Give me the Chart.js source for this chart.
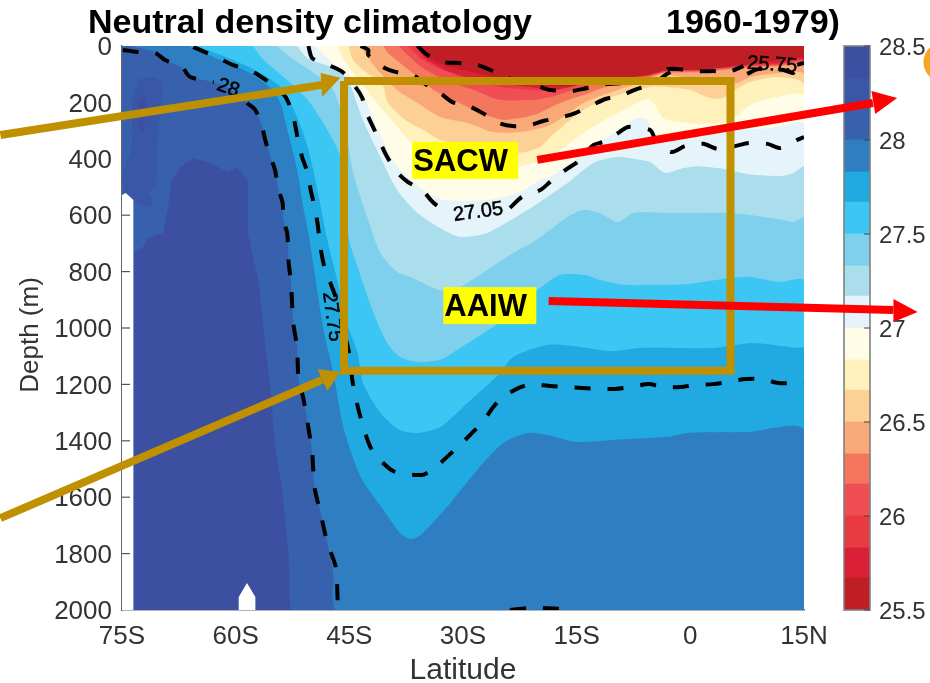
<!DOCTYPE html>
<html>
<head>
<meta charset="utf-8">
<title>Neutral density climatology</title>
<script src="https://cdn.jsdelivr.net/npm/chart.js@4"></script>
<style>
  html, body { margin: 0; padding: 0; background: #fff; overflow: hidden; }
  canvas { position: absolute; top: 0; }
  #section { left: 0; z-index: 2; }
  #colorbar { left: 800px; z-index: 1; }
</style>
</head>
<body>
<canvas id="colorbar" width="130" height="683"></canvas>
<canvas id="section" width="930" height="683"></canvas>
<script>
// colour levels of the filled contours, and one colour per band
const barLevels = [25.5, 25.67, 25.83, 26, 26.17, 26.33, 26.5, 26.67, 26.83, 27, 27.17, 27.33, 27.5, 27.67, 27.83, 28, 28.17, 28.33, 28.5];
const bandColors = ['#BE1E24', '#DA2037', '#EA3A41', '#EE4E54', '#F4775D', '#F9A877', '#FDD196', '#FFF1BC', '#FFFCE8', '#E5F4FA', '#ABDEEC', '#7FD0EC', '#3BC6F3', '#21A9E1', '#2E7EC1', '#3761AD', '#3A56A6', '#3D4FA1'];

// isopycnal depths (latitude, depth in m)
const lat2567 = [-35.6, -34.3, -31.7, -27.7, -22.4, -17.2, -11.9, -7.9, -5.3, -3.3, 1.3, 7.3, 10.6, 15];
const dep2567 = [0, 43, 74, 99, 128, 145, 131, 113, 99, 85, 89, 67, 53, 50];
const lat2583 = [-36.3, -35.0, -31.7, -27.7, -22.4, -17.2, -11.9, -7.9, -5.3, -3.3, 1.3, 7.3, 11.9, 15];
const dep2583 = [0, 43, 92, 121, 142, 156, 138, 121, 106, 89, 85, 67, 60, 53];
const lat2600 = [-37.3, -35.6, -33.0, -29.0, -25.1, -20.7, -18.5, -14.1, -9.6, -5.3, -3.3, 1.3, 7.3, 11.9, 15];
const dep2600 = [0, 43, 82, 121, 145, 156, 160, 135, 117, 103, 89, 85, 71, 64, 60];
const lat2617 = [-38.5, -37.0, -35.3, -31.7, -28.6, -25.1, -20.7, -18.5, -14.1, -9.6, -5.3, -3.3, 1.3, 7.3, 11.9, 15];
const dep2617 = [0, 39, 78, 128, 156, 191, 191, 181, 145, 121, 106, 92, 89, 74, 67, 64];
const lat2633 = [-40.5, -39.9, -38.3, -36.6, -33.9, -30.7, -27.7, -24.7, -20.7, -17.2, -14.1, -9.6, -5.3, -3.6, 1.3, 7.3, 11.9, 15];
const dep2633 = [0, 25, 60, 96, 156, 199, 238, 262, 245, 202, 174, 131, 110, 96, 92, 78, 71, 71];
const lat2650 = [-43.5, -42.5, -40.9, -38.7, -36.0, -33.0, -29.4, -26.0, -22.4, -18.5, -14.1, -9.6, -6.2, -3.6, 0, 4.0, 6.2, 7.9, 11.9, 15];
const dep2650 = [0, 43, 96, 156, 202, 252, 273, 305, 305, 280, 202, 156, 128, 103, 113, 128, 131, 110, 96, 103];
const lat2667 = [-45.1, -44.5, -43.2, -40.6, -39.9, -37.3, -35.2, -33.0, -29.0, -22.7, -19.8, -18.5, -14.1, -9.6, -5.3, -3.3, 0, 2.2, 3.6, 4.6, 5.9, 7.9, 11.5, 15];
const dep2667 = [0, 50, 85, 138, 202, 269, 298, 333, 358, 379, 358, 323, 227, 174, 145, 145, 156, 181, 188, 181, 156, 128, 110, 138];
const lat2683 = [-46.6, -45.9, -44.5, -43.2, -40.9, -38.3, -36.7, -31.7, -26.4, -22.8, -18.5, -14.1, -9.6, -5.7, -4.6, -3.6, -1.3, 1.3, 4.2, 5.9, 7.9, 10.2, 15];
const dep2683 = [0, 39, 96, 138, 216, 298, 344, 404, 433, 429, 394, 308, 238, 188, 209, 255, 269, 277, 273, 252, 209, 188, 181];
const lat2700 = [-49.5, -47.9, -45.9, -44.2, -42.9, -41.6, -39.9, -38.3, -35.2, -32.6, -26.8, -22.8, -19.8, -18.5, -16.2, -12.8, -9.6, -7.0, -5.7, -4.4, -1.3, 2.6, 6.6, 10.6, 15];
const dep2700 = [0, 43, 85, 128, 191, 273, 376, 440, 511, 546, 546, 521, 475, 465, 422, 358, 298, 255, 262, 323, 298, 305, 298, 291, 280];
const lat2717 = [-51.9, -50.5, -47.1, -45.9, -44.9, -43.2, -40.9, -38.7, -36.0, -32.6, -30.4, -26.8, -21.5, -18.5, -16.2, -12.8, -9.6, -6.6, -5.3, -3.3, -0.9, 0.9, 3.6, 6.2, 8.3, 11.9, 13.6, 15];
const dep2717 = [0, 43, 78, 103, 138, 262, 394, 511, 592, 652, 677, 663, 582, 528, 486, 415, 394, 404, 411, 450, 433, 426, 433, 447, 457, 461, 450, 429];
const lat2733 = [-54.5, -52.8, -49.7, -47.1, -45.5, -44.5, -42.5, -40.9, -38.7, -36.9, -33.9, -31.7, -30.4, -26.8, -23.4, -20.7, -18.5, -16.2, -14.1, -12.3, -11.0, -9.5, -7.5, -3.0, 1.3, 4.9, 7.9, 12.3, 13.6, 15];
const dep2733 = [0, 39, 96, 156, 298, 450, 617, 734, 801, 819, 858, 872, 855, 794, 734, 695, 652, 606, 582, 589, 606, 624, 592, 592, 592, 592, 599, 617, 624, 610];
const lat2750 = [-57.7, -56.3, -53.2, -50.5, -47.9, -46.2, -45.1, -43.2, -41.8, -40.0, -38.3, -36.0, -33.0, -30.4, -26.0, -23.4, -20.7, -17.2, -13.9, -11.9, -8.8, -4.0, -0.4, 5.3, 7.9, 11.9, 15];
const dep2750 = [0, 50, 121, 191, 298, 394, 677, 840, 947, 1053, 1103, 1121, 1113, 1071, 996, 936, 876, 812, 812, 830, 847, 847, 844, 823, 819, 837, 833];
const lat2767 = [-65.1, -60.3, -56.3, -53.7, -51.9, -50.5, -49.2, -47.9, -46.6, -45.5, -43.9, -43.2, -40.9, -38.3, -36.0, -33.0, -29.4, -25.1, -23.4, -18.9, -14.5, -10.6, -6.6, -1.3, 3.0, 8.3, 14.1, 15];
const dep2767 = [0, 50, 103, 156, 252, 358, 511, 688, 830, 972, 1089, 1195, 1301, 1362, 1372, 1351, 1266, 1160, 1103, 1060, 1067, 1082, 1071, 1071, 1071, 1053, 1071, 1071];
const lat2783 = [-66.2, -62.0, -58.1, -55.4, -54.1, -53.4, -52.5, -51.7, -51.1, -50.4, -49.7, -48.4, -47.1, -45.8, -43.5, -40.5, -38.3, -36.9, -35.6, -32.1, -28.1, -24.7, -21.5, -18.9, -14.9, -10.2, -3.0, -0.4, 7.5, 15];
const dep2783 = [0, 50, 96, 149, 202, 273, 369, 465, 571, 663, 784, 1007, 1160, 1351, 1528, 1645, 1727, 1748, 1734, 1635, 1503, 1408, 1372, 1379, 1404, 1397, 1386, 1372, 1369, 1362];
const lat2800 = [-73.9, -70.6, -69.3, -67.0, -66.0, -62.9, -61.0, -58.5, -57.4, -56.5, -56.1, -55.4, -54.8, -54.4, -53.8, -53.7, -53.2, -53.0, -52.7, -52.4, -51.9, -51.7, -51.1, -50.5, -49.9, -49.6, -48.8, -47.9, -47.1, -47.2, -46.7];
const dep2800 = [0, 21, 50, 78, 110, 128, 149, 202, 227, 287, 333, 394, 440, 504, 557, 617, 663, 769, 840, 982, 1067, 1184, 1245, 1337, 1443, 1564, 1656, 1762, 1876, 1954, 2000];

// closed patches of the densest water
const lat2817 = [-72.9, -71.3, -69.7, -70.2, -70.4, -70.6, -71.4, -70.9, -71.7, -73.3, -74.6, -75, -73.7, -73.7];
const dep2817 = [121, 110, 131, 287, 404, 500, 521, 553, 571, 553, 521, 457, 358, 202];
const lat2833 = [-68.4, -67.3, -65.6, -63.3, -61.1, -59.8, -58.4, -58.4, -57.0, -56.3, -55.4, -54.8, -53.8, -53.0, -52.8, -73.4, -73.4, -72.2, -71.7, -69.6, -68.9];
const dep2833 = [475, 429, 397, 415, 447, 429, 475, 663, 830, 1007, 1220, 1422, 1585, 1812, 2000, 2000, 734, 713, 681, 663, 571];
const lat2833b = [-72.9, -72.2, -71.7, -72.0, -72.2, -72.8];
const dep2833b = [199, 174, 199, 273, 309, 280];

// no-data wedges at the sea floor
const latFloorA = [-75, -74.5, -73.5, -73.5, -75];
const depFloorA = [528, 521, 546, 2000, 2000];
const latFloorB = [-59.6, -58.5, -57.4, -57.4, -59.6];
const depFloorB = [1954, 1904, 1954, 2000, 2000];

// dashed contours, null marks the gap kept for a label
const latC2575 = [-36.0, -34.7, -32.6, -30.6, -28.1, -26.4, -24.1, -19.8, -18.5, -15.8, -14.1, -11.0, -7.0, -4.0, -3.0, -1.6, 0.9, 3.0, 5.3, 7.0, null, 14.1, 15];
const depC2575 = [0, 32, 57, 60, 67, 85, 113, 145, 156, 160, 152, 135, 128, 110, 82, 82, 89, 89, 89, 71, null, 67, 60];
const latC2640 = [-43.5, -42.5, -42.5, -40.6, -38.9, -36.6, -35.2, -33.0, -31.4, -29.0, -27.4, -25.3, -23.5, -21.1, -19.4, -16.9, -15.2, -12.9, -11.2, -9.0, -7.0, -4.9, -3.3, -2.6, null, 7.5, 9.0, 12.3, 13.5, 14.3, 15];
const depC2640 = [0, 14, 32, 74, 92, 103, 131, 167, 199, 216, 238, 273, 284, 280, 266, 252, 238, 209, 188, 174, 152, 135, 103, 92, null, 99, 82, 85, 96, 78, 71];
const latC2705 = [-50.4, -49.9, -47.8, -45.9, -44.2, -43.3, -42.6, -41.8, -40.9, -40.0, -38.7, -37.3, -35.4, -34.0, -32.3, null, -23.8, -22.2, -19.8, -18.5, -16.5, -14.9, -12.8, -11.5, -9.5, -8.2, -5.3, -4.4, -2.4, -0.7, 1.7, 3.6, 5.9, 7.7, 10.2, 11.9, 14.1, 15];
const depC2705 = [0, 43, 67, 92, 145, 184, 245, 291, 344, 394, 447, 482, 511, 553, 589, null, 574, 535, 511, 482, 440, 411, 351, 340, 308, 287, 298, 344, 376, 355, 347, 365, 355, 344, 347, 362, 333, 323];
const latC2775 = [-65.6, -64.7, -62.3, -60.4, -58.3, -57.0, -54.8, -53.4, -52.5, -52.1, -51.7, -51.2, -50.4, -50.1, -49.7, -49.2, -48.8, -48.2, -47.5, -46.8, -46.6, null, -45.5, -45.1, -44.5, -43.5, -42.0, -39.2, -35.4, -33.6, -32.1, -30.4, -28.8, -27.4, -26.0, -24.7, -22.7, -20.8, -18.5, -16.5, -14.3, -12.1, -9.9, -7.9, -5.5, -3.6, -1.3, 0.9, 3.0, 5.0, 7.3, 9.5, 11.6, 13.9, 15];
const depC2775 = [4, 14, 43, 67, 85, 103, 145, 181, 238, 287, 344, 397, 457, 511, 557, 628, 716, 794, 840, 890, 901, null, 1035, 1078, 1202, 1319, 1433, 1507, 1521, 1493, 1457, 1415, 1372, 1333, 1280, 1245, 1213, 1199, 1206, 1209, 1213, 1216, 1216, 1209, 1199, 1209, 1209, 1202, 1199, 1191, 1181, 1181, 1195, 1195, 1195];
const latC28 = [-74.9, -73.0, -70.6, -69.3, -67.0, -66.0, -62.9, null, -58.5, -57.4, -56.5, -56.1, -55.4, -54.8, -54.4, -53.8, -53.7, -53.2, -53.0, -52.7, -52.4, -51.9, -51.7, -51.1, -50.5, -49.9, -49.6, -48.8, -47.9, -46.8, -46.5];
const depC28 = [14, 21, 25, 50, 78, 110, 128, null, 202, 227, 287, 333, 394, 440, 504, 557, 617, 663, 769, 840, 982, 1067, 1184, 1245, 1337, 1443, 1564, 1656, 1762, 1847, 2000];
const latCDeep = [-23.8, -21.5, -19.4, -17.3];
const depCDeep = [2000, 1993, 1993, 1996];

// overlay drawn on the figure: box, arrows, hidden circles at the right edge
const boxLat = [-45.7, 5.3, 5.3, -45.7, -45.7];
const boxDep = [124, 124, 1152, 1152, 124];
const goldLatA = [-91.05, -48.6];
const goldDepA = [316, 138];
const goldLatB = [-91.05, -48.6];
const goldDepB = [1674, 1184];
const redLatA = [-20.2, 24.1];
const redDepA = [404, 202];
const redLatB = [-18.7, 26.8];
const redDepB = [904, 936];
const arrowHeads = [
  { color: '#BF9000', lat: [-48.8, -46.2, -48.6], dep: [96, 113, 181] },
  { color: '#BF9000', lat: [-49.2, -46.2, -47.9], dep: [1145, 1156, 1223] },
  { color: '#FF0000', lat: [23.9, 27.3, 24.4], dep: [160, 184, 241] },
  { color: '#FF0000', lat: [26.8, 30.0, 26.8], dep: [897, 943, 979] }
];
const sideCircles = [
  { color: '#F5A623', lat: 33.4, dep: 57 },
  { color: '#C00000', lat: 34.3, dep: 989 }
];
const waterLabels = [
  { text: 'SACW', lat: -36.7, dep: 340, width: 106, height: 37 },
  { text: 'AAIW', lat: -32.6, dep: 855, width: 93, height: 37 }
];
const contourLabels = [
  { text: '28', lat: -61.0, dep: 149, angle: 20 },
  { text: '27.05', lat: -28.0, dep: 589, angle: -8 },
  { text: '25.75', lat: 10.8, dep: 67, angle: 4 },
  { text: '27.75', lat: -47.3, dep: 960, angle: 82 }
];

const zip = (lat, dep) => lat.map((x, i) => ({ x: x, y: dep[i] }));

// painted back to front, each one covers the lighter water above it
const fillBase = { lat: [-75, 15, 15, -75], dep: [0, 0, 2000, 2000] };
const denser = [
  [lat2567, dep2567], [lat2583, dep2583], [lat2600, dep2600], [lat2617, dep2617],
  [lat2633, dep2633], [lat2650, dep2650], [lat2667, dep2667], [lat2683, dep2683],
  [lat2700, dep2700], [lat2717, dep2717], [lat2733, dep2733], [lat2750, dep2750],
  [lat2767, dep2767], [lat2783, dep2783], [lat2800, dep2800]
];

function polygon(points, color, tag, tension) {
  return { data: points, showLine: true, fill: 'shape', backgroundColor: color, borderWidth: 0, pointRadius: 0, tension: tension || 0, tag: tag };
}
function contour(lat, dep, tag) {
  return { data: zip(lat, dep), showLine: true, fill: false, borderColor: '#000', borderWidth: 4, borderDash: [16, 17], pointRadius: 0, tension: 0.25, tag: tag };
}
function stroke(lat, dep, color, width) {
  return { data: zip(lat, dep), showLine: true, fill: false, borderColor: color, borderWidth: width, pointRadius: 0, clip: false, borderJoinStyle: 'miter' };
}

const layers = [];
layers.push(polygon(zip(fillBase.lat, fillBase.dep), bandColors[0]));
denser.forEach((d, i) => {
  // close round the bottom and the top left corner of the section
  const pts = zip(d[0], d[1]).concat([{ x: 15, y: 2000 }, { x: -75, y: 2000 }, { x: -75, y: 0 }]);
  layers.push(polygon(pts, bandColors[i + 1], undefined, 0.25));
});
layers.push(polygon(zip(lat2817, dep2817), bandColors[16], undefined, 0.2));
layers.push(polygon(zip(lat2833, dep2833), bandColors[17]));
layers.push(polygon(zip(lat2833b, dep2833b), bandColors[17], undefined, 0.2));
layers.push(polygon(zip(latFloorA, depFloorA), '#fff'));
layers.push(polygon(zip(latFloorB, depFloorB), '#fff', 'floor'));
layers.push(contour(latC2575, depC2575));
layers.push(contour(latC2640, depC2640));
layers.push(contour(latC2705, depC2705));
layers.push(contour(latC2775, depC2775));
layers.push(contour(latC28, depC28));
layers.push(contour(latCDeep, depCDeep, 'contours'));
layers.push(stroke(boxLat, boxDep, '#BF9000', 8));
layers.push(stroke(goldLatA, goldDepA, '#BF9000', 8));
layers.push(stroke(goldLatB, goldDepB, '#BF9000', 8));
layers.push(stroke(redLatA, redDepA, '#FF0000', 8));
layers.push(stroke(redLatB, redDepB, '#FF0000', 8));
// chart.js paints high order first
layers.forEach((d, i) => { d.order = layers.length - i; });

const FONT = '"Liberation Sans", Arial, sans-serif';

const sectionPlugin = {
  id: 'sectionPlugin',
  afterDatasetDraw(chart, args) {
    const tag = chart.data.datasets[args.index].tag;
    const ctx = chart.ctx;
    const xs = chart.scales.x, ys = chart.scales.y;
    if (tag === 'floor') {
      // inward y ticks, only seen where the fill leaves the axes bare
      ctx.save();
      ctx.strokeStyle = '#555';
      ctx.lineWidth = 1.2;
      ys.ticks.forEach(t => {
        if (t.value < 600 || t.value >= 2000) return;
        const y = ys.getPixelForValue(t.value);
        ctx.beginPath();
        ctx.moveTo(xs.left, y);
        ctx.lineTo(xs.left + 8, y);
        ctx.stroke();
      });
      ctx.restore();
    }
    if (tag === 'contours') {
      ctx.save();
      ctx.fillStyle = '#000';
      ctx.strokeStyle = '#000';
      ctx.lineWidth = 0.5;
      ctx.font = '20px ' + FONT;
      ctx.textAlign = 'center';
      ctx.textBaseline = 'middle';
      contourLabels.forEach(l => {
        ctx.save();
        ctx.translate(xs.getPixelForValue(l.lat), ys.getPixelForValue(l.dep));
        ctx.rotate(l.angle * Math.PI / 180);
        ctx.fillText(l.text, 0, 0);
        ctx.strokeText(l.text, 0, 0);
        ctx.restore();
      });
      ctx.restore();
    }
  },
  afterDatasetsDraw(chart) {
    const ctx = chart.ctx;
    const xs = chart.scales.x, ys = chart.scales.y;
    ctx.save();
    arrowHeads.forEach(h => {
      ctx.fillStyle = h.color;
      ctx.beginPath();
      h.lat.forEach((lat, i) => {
        ctx.lineTo(xs.getPixelForValue(lat), ys.getPixelForValue(h.dep[i]));
      });
      ctx.closePath();
      ctx.fill();
    });
    sideCircles.forEach(c => {
      ctx.fillStyle = c.color;
      ctx.beginPath();
      ctx.arc(xs.getPixelForValue(c.lat), ys.getPixelForValue(c.dep), 20, 0, Math.PI * 2);
      ctx.fill();
    });
    // yellow water mass tags
    waterLabels.forEach(l => {
      const x = xs.getPixelForValue(l.lat), y = ys.getPixelForValue(l.dep);
      ctx.fillStyle = '#FFFF00';
      ctx.fillRect(x, y, l.width, l.height);
      ctx.fillStyle = '#000';
      ctx.font = 'bold 31px ' + FONT;
      ctx.textAlign = 'left';
      ctx.textBaseline = 'alphabetic';
      ctx.fillText(l.text, x + 1, y + 29);
    });
    // title and axis names
    ctx.fillStyle = '#000';
    ctx.font = 'bold 34px ' + FONT;
    ctx.fillText('Neutral density climatology', 88, 33);
    ctx.fillText('1960-1979)', 666, 33);
    ctx.fillStyle = '#333';
    ctx.font = '30px ' + FONT;
    ctx.textAlign = 'center';
    ctx.fillText('Latitude', 463, 679);
    ctx.translate(38, 335);
    ctx.rotate(-Math.PI / 2);
    ctx.font = '26px ' + FONT;
    ctx.fillText('Depth (m)', 0, 0);
    ctx.restore();
  }
};

new Chart(document.getElementById('section'), {
  type: 'scatter',
  data: { datasets: layers },
  options: {
    responsive: false,
    animation: false,
    events: [],
    layout: { padding: { left: 0, top: 46, right: 126, bottom: 0 } },
    plugins: { legend: { display: false }, tooltip: { enabled: false } },
    scales: {
      x: {
        type: 'linear',
        min: -75,
        max: 15,
        afterFit: s => { s.height = 73; },
        grid: { display: false, drawTicks: false },
        border: { display: true, color: '#666', width: 1.5 },
        ticks: {
          stepSize: 15,
          maxRotation: 0,
          autoSkip: false,
          padding: 11,
          color: '#333',
          font: { family: FONT, size: 26 },
          callback: v => (v < 0 ? -v + 'S' : v > 0 ? v + 'N' : '0')
        }
      },
      y: {
        type: 'linear',
        reverse: true,
        min: 0,
        max: 2000,
        afterFit: s => { s.width = 122; },
        grid: { display: false, drawTicks: false },
        border: { display: true, color: '#666', width: 1.5 },
        ticks: {
          stepSize: 200,
          autoSkip: false,
          padding: 10,
          labelOffset: 2,
          color: '#333',
          font: { family: FONT, size: 26 },
          callback: v => String(v)
        }
      }
    }
  },
  plugins: [sectionPlugin]
});

// colour bar, one floating bar per band
const framePlugin = {
  id: 'framePlugin',
  afterDatasetsDraw(chart) {
    const ctx = chart.ctx, a = chart.chartArea, ys = chart.scales.y;
    ctx.save();
    ctx.strokeStyle = '#808080';
    ctx.lineWidth = 1.6;
    ctx.strokeRect(a.left, a.top, a.right - a.left, a.bottom - a.top);
    ctx.strokeStyle = '#444';
    ctx.lineWidth = 1;
    ys.ticks.forEach(t => {
      const y = ys.getPixelForValue(t.value);
      ctx.beginPath();
      ctx.moveTo(a.right - 6, y);
      ctx.lineTo(a.right, y);
      ctx.stroke();
    });
    ctx.restore();
  }
};

new Chart(document.getElementById('colorbar'), {
  type: 'bar',
  data: {
    labels: [''],
    datasets: bandColors.map((c, i) => ({
      data: [[barLevels[i], barLevels[i + 1]]],
      backgroundColor: c,
      borderWidth: 0,
      grouped: false,
      barPercentage: 1,
      categoryPercentage: 1
    }))
  },
  options: {
    responsive: false,
    animation: false,
    events: [],
    layout: { padding: { left: 44, top: 46, right: 0, bottom: 73 } },
    plugins: { legend: { display: false }, tooltip: { enabled: false } },
    scales: {
      x: { display: false },
      y: {
        position: 'right',
        min: 25.5,
        max: 28.5,
        afterFit: s => { s.width = 60; },
        grid: { display: false, drawTicks: false },
        border: { display: false },
        ticks: {
          stepSize: 0.5,
          padding: 9,
          labelOffset: 2,
          color: '#333',
          font: { family: FONT, size: 24 },
          callback: v => String(v)
        }
      }
    }
  },
  plugins: [framePlugin]
});
</script>
</body>
</html>
